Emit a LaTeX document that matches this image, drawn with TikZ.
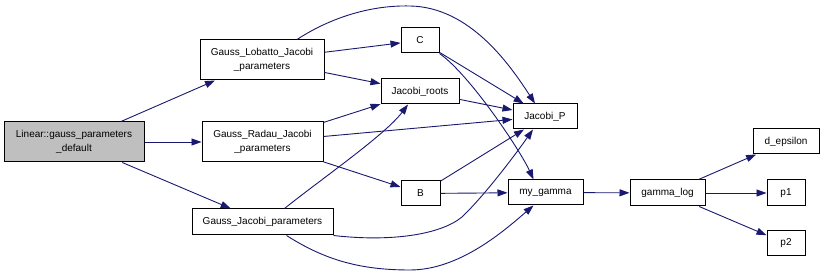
\documentclass[tikz,border=0pt]{standalone}
\usepackage{fontspec}
\setmainfont{Liberation Sans}
\usetikzlibrary{arrows.meta}
\definecolor{edgeblue}{HTML}{191970}
\definecolor{rootgray}{HTML}{BFBFBF}

\begin{document}
\begin{tikzpicture}[x=1pt,y=1pt,
  fn/.style={draw=black, line width=1pt, fill=white, inner sep=0pt,
             font=\fontsize{10}{14}\selectfont, align=center},
  call/.style={draw=edgeblue, line width=0.9pt,
               -{Triangle[length=10pt,width=7pt]}},
]
\useasboundingbox (0,0) rectangle (824,275);

% functions
\node[fn, fill=rootgray, minimum width=140pt, minimum height=40pt] (lin) at (74,133)
  {Linear::gauss\_parameters\\\_default};
\node[fn, minimum width=124pt, minimum height=40pt] (lob) at (262,215)
  {Gauss\_Lobatto\_Jacobi\\\_parameters};
\node[fn, minimum width=121pt, minimum height=40pt] (rad) at (262.5,133)
  {Gauss\_Radau\_Jacobi\\\_parameters};
\node[fn, minimum width=141pt, minimum height=26pt] (gj) at (262.5,53)
  {Gauss\_Jacobi\_parameters};
\node[fn, minimum width=38pt, minimum height=25pt] (c) at (420,234.5) {C};
\node[fn, minimum width=78pt, minimum height=25pt] (jr) at (420,183.5) {Jacobi\_roots};
\node[fn, minimum width=64pt, minimum height=25pt] (jp) at (545,158.5) {Jacobi\_P};
\node[fn, minimum width=39pt, minimum height=25pt] (b) at (420.5,81.5) {B};
\node[fn, minimum width=75pt, minimum height=25pt] (mg) at (545.5,82.5) {my\_gamma};
\node[fn, minimum width=75pt, minimum height=26pt] (gl) at (667.5,82) {gamma\_log};
\node[fn, minimum width=66pt, minimum height=25pt] (de) at (786,133.5) {d\_epsilon};
\node[fn, minimum width=38pt, minimum height=26pt] (p1) at (786,82) {p1};
\node[fn, minimum width=38pt, minimum height=25pt] (p2) at (786,31.5) {p2};

% calls
\draw[call] (lin) -- (lob);
\draw[call] (lin) -- (rad);
\draw[call] (lin) -- (gj);

\draw[call] (lob) -- (c);
\draw[call] (lob) -- (jr);
\draw[call] ([xshift=35pt]lob.north) .. controls (330,257) and (370,270) .. (410,269)
  .. controls (470,268) and (510,210) .. ([xshift=-10pt]jp.north);

\draw[call] (c) -- (jp);
\draw[call] (c.south east) .. controls (470,200) and (520,125) .. ([xshift=-12pt]mg.north);

\draw[call] (jr) -- (jp);

\draw[call] (rad) -- (jr);
\draw[call] (rad) -- (jp);
\draw[call] (rad) -- (b);

\draw[call] ([xshift=22pt]gj.north) .. controls (320,95) and (385,140) .. ([xshift=-12pt]jr.south);
\draw[call] (gj.south east) .. controls (390,33) and (440,40) .. (462,58)
  .. controls (485,80) and (515,120) .. ([xshift=-12pt]jp.south);
\draw[call] ([xshift=24pt]gj.south) .. controls (325,15) and (360,5) .. (410,5)
  .. controls (460,5) and (505,45) .. ([xshift=-12pt]mg.south);

\draw[call] (b) -- (jp);
\draw[call] (b) -- (mg);

\draw[call] (mg) -- (gl);
\draw[call] (gl) -- (de);
\draw[call] (gl) -- (p1);
\draw[call] (gl) -- (p2);
\end{tikzpicture}
\end{document}
